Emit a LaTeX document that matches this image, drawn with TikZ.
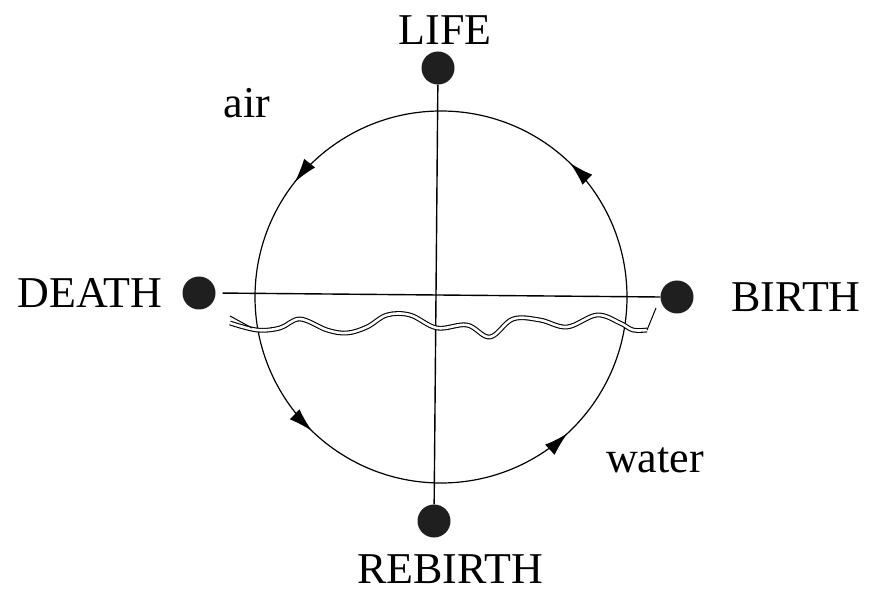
\documentclass[tikz,border=0pt]{standalone}
\usepackage{fontspec}
\setmainfont{Liberation Serif}
\usetikzlibrary{arrows.meta,decorations.markings}
\tikzset{
  dot/.style={circle,fill=black!88,inner sep=0pt,minimum size=33pt},
  lbl/.style={font=\fontsize{44}{50}\selectfont,anchor=base,inner sep=0pt},
  axis/.style={line width=1.4pt},
  tip/.style={Latex[length=24pt,width=14pt]},
  ring/.style={line width=1.2pt,
    postaction={decorate,decoration={markings,
      mark=at position 0.128 with {\arrow{Latex[length=24pt,width=14pt]}},
      mark=at position 0.394 with {\arrow{Latex[length=24pt,width=14pt]}},
      mark=at position 0.628 with {\arrow{Latex[length=24pt,width=14pt]}},
      mark=at position 0.869 with {\arrow{Latex[length=24pt,width=14pt]}}}}},
  wave/.style={line width=1.1pt,double,double distance=2.6pt}
}
\begin{document}
\begin{tikzpicture}[x=1pt,y=1pt]
\useasboundingbox (0,0) rectangle (869,592);
\coordinate (c) at (441,295);
\draw[ring] (c) circle[radius=186];
% dots
\node[dot] (life) at (438,524) {};
\node[dot] (rebirth) at (434,71) {};
\node[dot] (death) at (199,299) {};
\node[dot] (birth) at (677,295) {};
% axes
\draw[axis] (life) -- (rebirth);
\draw[axis,shorten <=7pt] (death.east) -- (birth.west);
% wavy boundary
\draw[wave] plot[smooth,tension=0.6] coordinates {
 (230,269) (257,262) (280,264) (300,273) (327,262) (347,259) (367,265)
 (387,277) (410,277) (437,264) (467,267) (490,255) (513,273) (540,272)
 (567,265) (597,277) (620,269) (633,262) (647,262)};
\draw[line width=1pt] (647,262) -- (656,284);
\draw[line width=1pt] (230,276) -- (252,264);
% labels
\node[lbl] (tlife) at (445,547) {LIFE};
\node[lbl] (trebirth) at (450,9) {REBIRTH};
\node[lbl] (tdeath) at (90,284) {DEATH};
\node[lbl] (tbirth) at (796,280) {BIRTH};
\node[lbl] (tair) at (247,474) {air};
\node[lbl] (twater) at (655,120) {water};
\end{tikzpicture}
\end{document}
